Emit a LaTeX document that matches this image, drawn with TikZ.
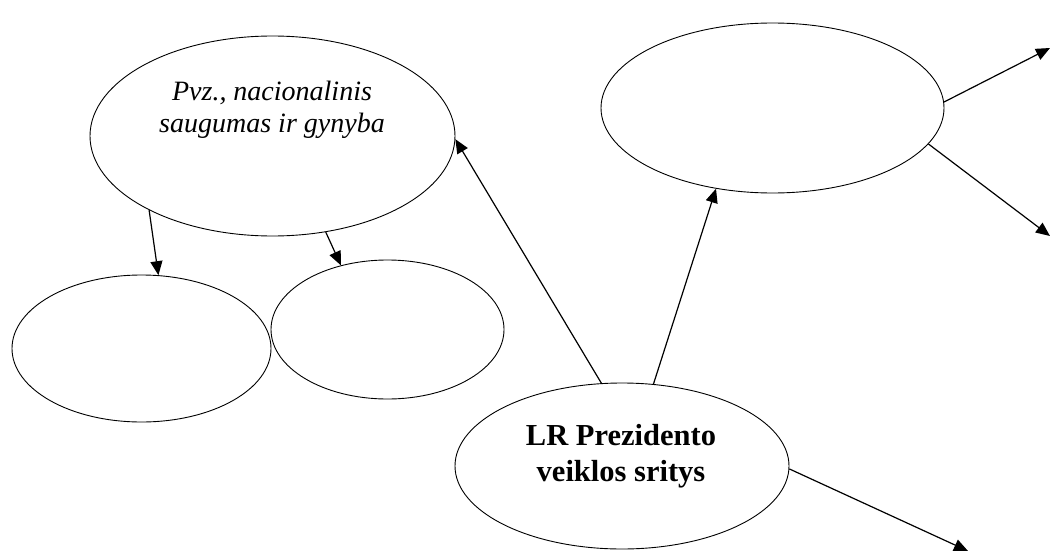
\documentclass[tikz,border=0pt]{standalone}
\usepackage{fontspec}
\setmainfont{Liberation Serif}
\usetikzlibrary{shapes.geometric,arrows.meta}
\begin{document}
\begin{tikzpicture}[x=1pt,y=-1pt,
  oval/.style={ellipse,draw,line width=0.9pt,inner sep=0pt},
  conn/.style={line width=1.2pt,-{Triangle[length=14pt,width=12pt]}},
  itxt/.style={align=center,font=\fontsize{28}{32}\selectfont\itshape,inner sep=0pt},
  btxt/.style={align=center,font=\fontsize{30.5}{36}\selectfont\bfseries,inner sep=0pt}]
\useasboundingbox (0,0) rectangle (1051,551);
\node[oval,minimum width=365pt,minimum height=200pt] (T) at (272.5,136) {};
\node[oval,minimum width=259pt,minimum height=147pt] (B1) at (141.5,348.5) {};
\node[oval,minimum width=233pt,minimum height=139pt] (B2) at (387.5,329.5) {};
\node[oval,minimum width=343pt,minimum height=170pt] (R) at (772.5,108) {};
\node[oval,minimum width=334pt,minimum height=166pt] (P) at (622,466) {};
\node[itxt] (Tt) at (272,110) {Pvz., nacionalinis\\saugumas ir gynyba};
\node[btxt] (Pt) at (621,456) {LR Prezidento\\veiklos sritys};
\coordinate (e1) at (1050,48);
\coordinate (e2) at (1050,236);
\coordinate (e3) at (968,551);
\draw[conn] (P.104.8) -- (T.-1);
\draw[conn] (P.69.5) -- (R.-125.7);
\draw[conn] (P.-1.4) -- (e3);
\draw[conn] (R.2) -- (e1);
\draw[conn] (R.-13.5) -- (e2);
\draw[conn] (T.211.7) -- (B1.77.3);
\draw[conn] (T.-61.6) -- (B2.126.4);
\end{tikzpicture}
\end{document}
